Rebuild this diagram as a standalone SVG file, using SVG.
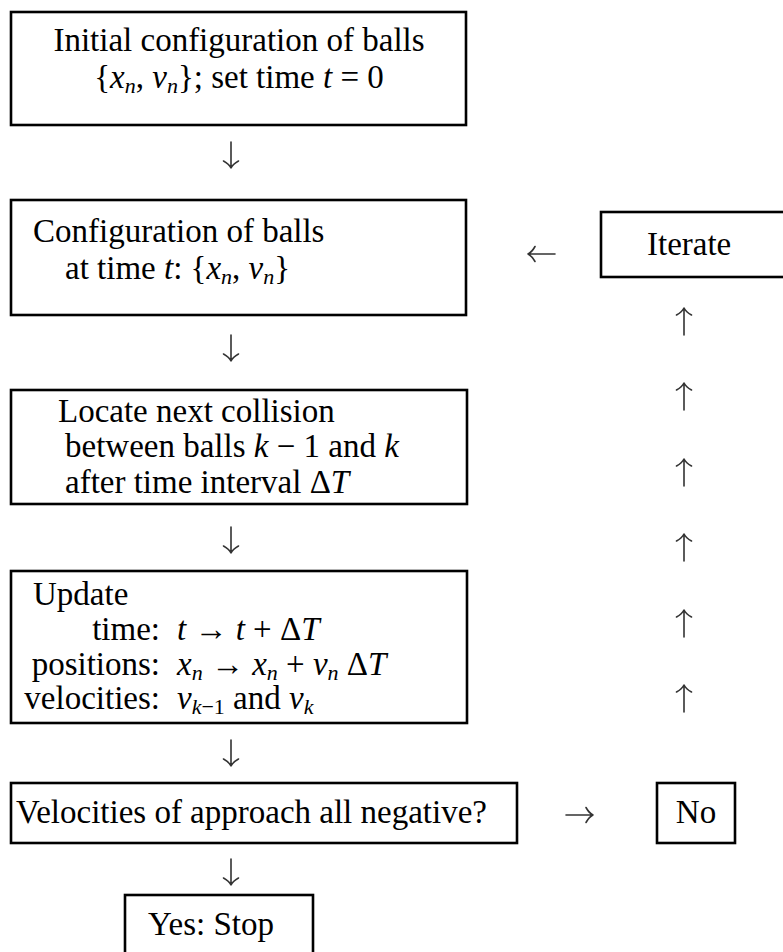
<svg xmlns="http://www.w3.org/2000/svg" width="783" height="952" viewBox="0 0 783 952">
<style>
  text { font-family: "Liberation Serif", "Times New Roman", serif; font-size: 33px; fill: #000; }
  .i { font-style: italic; }
  .s { font-size: 22px; }
  .box { fill: none; stroke: #000; stroke-width: 2.6; }
  .arr { fill: none; stroke: #333; stroke-width: 1.6; stroke-linecap: round; stroke-linejoin: round; }
</style>
<defs>
  <path id="down" d="M0,0 V26 M-7.5,19 Q-2,22 0,26 Q2,22 7.5,19"/>
  <path id="up" d="M0,27 V0 M-7.5,7 Q-2,4 0,0 Q2,4 7.5,7"/>
  <path id="left" d="M27,0 H0 M7,-7.5 Q4,-2 0,0 Q4,2 7,7.5"/>
  <path id="right" d="M0,0 H27 M20,-7.5 Q23,-2 27,0 Q23,2 20,7.5"/>
</defs>
<rect width="783" height="952" fill="#fff"/>

<g id="connectors" class="arr">
  <use href="#down" x="231" y="142"/>
  <use href="#down" x="231" y="335"/>
  <use href="#down" x="231" y="527"/>
  <use href="#down" x="231" y="740"/>
  <use href="#down" x="231" y="859"/>
  <use href="#left" x="528" y="254"/>
  <use href="#right" x="566" y="815"/>
  <use href="#up" x="684" y="308"/>
  <use href="#up" x="684" y="383"/>
  <use href="#up" x="684" y="459"/>
  <use href="#up" x="684" y="534"/>
  <use href="#up" x="684" y="610"/>
  <use href="#up" x="684" y="685"/>
</g>

<g id="init">
  <rect class="box" x="11" y="12" width="455" height="113"/>
  <text x="239" y="51" text-anchor="middle">Initial configuration of balls</text>
  <text x="239" y="88" text-anchor="middle">{<tspan class="i">x</tspan><tspan class="i s" dy="5">n</tspan><tspan dy="-5">, </tspan><tspan class="i">v</tspan><tspan class="i s" dy="5">n</tspan><tspan dy="-5">}; set time </tspan><tspan class="i">t</tspan> = 0</text>
</g>

<g id="config">
  <rect class="box" x="11" y="200" width="455" height="115"/>
  <text x="33" y="242">Configuration of balls</text>
  <text x="65" y="279">at time <tspan class="i">t</tspan>: {<tspan class="i">x</tspan><tspan class="i s" dy="5">n</tspan><tspan dy="-5">, </tspan><tspan class="i">v</tspan><tspan class="i s" dy="5">n</tspan><tspan dy="-5">}</tspan></text>
</g>

<g id="iterate">
  <rect class="box" x="601" y="212" width="200" height="65"/>
  <text x="647" y="255">Iterate</text>
</g>

<g id="locate">
  <rect class="box" x="11" y="390" width="456" height="114"/>
  <text x="58" y="422">Locate next collision</text>
  <text x="65" y="457">between balls <tspan class="i">k</tspan> − 1 and <tspan class="i">k</tspan></text>
  <text x="65" y="493">after time interval Δ<tspan class="i">T</tspan></text>
</g>

<g id="update">
  <rect class="box" x="11" y="571" width="456" height="152"/>
  <text x="33" y="605">Update</text>
  <text x="160" y="640" text-anchor="end">time:</text>
  <text x="177" y="640"><tspan class="i">t</tspan> → <tspan class="i">t</tspan> + Δ<tspan class="i">T</tspan></text>
  <text x="160" y="675" text-anchor="end">positions:</text>
  <text x="177" y="675"><tspan class="i">x</tspan><tspan class="i s" dy="5">n</tspan><tspan dy="-5"> → </tspan><tspan class="i">x</tspan><tspan class="i s" dy="5">n</tspan><tspan dy="-5"> + </tspan><tspan class="i">v</tspan><tspan class="i s" dy="5">n</tspan><tspan dy="-5"> Δ</tspan><tspan class="i">T</tspan></text>
  <text x="160" y="709" text-anchor="end">velocities:</text>
  <text x="177" y="709"><tspan class="i">v</tspan><tspan class="s" dy="5"><tspan class="i">k</tspan>−1</tspan><tspan dy="-5"> and </tspan><tspan class="i">v</tspan><tspan class="i s" dy="5">k</tspan></text>
</g>

<g id="check">
  <rect class="box" x="11" y="783" width="506" height="60"/>
  <text x="16" y="823">Velocities of approach all negative?</text>
</g>

<g id="no">
  <rect class="box" x="657" y="783" width="78" height="60"/>
  <text x="696" y="823" text-anchor="middle">No</text>
</g>

<g id="stop">
  <rect class="box" x="125" y="895" width="188" height="80"/>
  <text x="148" y="935">Yes: Stop</text>
</g>
</svg>
